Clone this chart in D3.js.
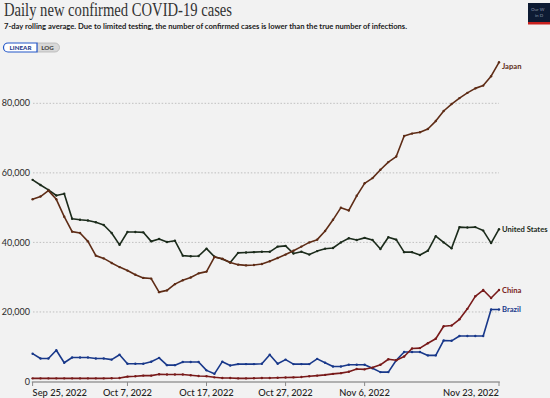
<!DOCTYPE html>
<html>
<head>
<meta charset="utf-8">
<script src="https://cdn.jsdelivr.net/npm/d3@7/dist/d3.min.js"></script>
<style>
  html, body { margin: 0; padding: 0; background: #f2f2f2; }
  svg { display: block; font-family: Lato, "Noto Sans", sans-serif; }
</style>
</head>
<body>
<div id="chart"></div>
<script>
// chart values, one point per day from Sep 25 to Nov 23, 2022
var start_date = "2022-09-25";
var tick_dates = ["2022-09-25", "2022-10-07", "2022-10-17", "2022-10-27", "2022-11-06", "2022-11-23"];
var y_ticks = [0, 20000, 40000, 60000, 80000];

var japan = [52400, 53200, 54900, 52400, 47400, 43100, 42700, 40300, 36200, 35400,
             34100, 32900, 31900, 30700, 29800, 29600, 25700, 26200, 28000, 29100,
             29900, 31100, 31600, 35800, 35300, 34200, 33600, 33400, 33500, 33800,
             34600, 35500, 36500, 37600, 38800, 40000, 40800, 43300, 46500, 50000,
             49200, 53400, 57000, 58500, 60900, 63100, 64700, 70600, 71300, 71700,
             72600, 74900, 77800, 79800, 81500, 83000, 84300, 85100, 87800, 91800];
var united_states = [58000, 56500, 55100, 53500, 54000, 46800, 46500, 46300, 45800, 45000,
             42700, 39300, 43000, 43000, 42900, 40300, 41000, 40100, 40500, 36200,
             36000, 36100, 38200, 35900, 35200, 34200, 37000, 37100, 37200, 37300,
             37300, 38800, 39000, 36800, 37300, 36500, 37500, 38200, 38400, 40000,
             41200, 40700, 41300, 40700, 38100, 41500, 40800, 37200, 37200, 36400,
             37600, 41800, 40000, 38300, 44400, 44300, 44400, 43400, 39800, 43800];
var china = [900, 900, 900, 900, 900, 900, 900, 900, 900, 900,
             950, 1000, 1400, 1500, 1700, 1700, 2100, 2000, 2000, 2000,
             1800, 1600, 1500, 1200, 1000, 1000, 900, 900, 950, 1000,
             1000, 1100, 1150, 1200, 1300, 1500, 1700, 1900, 2200, 2400,
             2800, 3600, 3500, 4000, 4800, 6400, 6100, 7200, 9500, 9600,
             11000, 12300, 15900, 16100, 17900, 20900, 24500, 26300, 24000, 26300];
var brazil = [8000, 6600, 6600, 9000, 5400, 6900, 6900, 6900, 6600, 6600,
             6300, 7700, 5100, 5100, 5100, 5700, 6800, 4700, 4700, 5600,
             5600, 5600, 3200, 2200, 5700, 4600, 5000, 5000, 5000, 5100,
             7700, 5100, 6300, 5000, 5000, 5000, 6500, 5400, 4300, 4300,
             4800, 4800, 4800, 3800, 2700, 2700, 6100, 8500, 8500, 8500,
             7500, 7500, 11800, 11700, 13100, 13100, 13100, 13100, 20700, 20700];

var series = [
    {name: "Japan", values: japan, color: "#5e2c16"},
    {name: "United States", values: united_states, color: "#1b2b1b"},
    {name: "China", values: china, color: "#781a1a"},
    {name: "Brazil", values: brazil, color: "#18388a"}
];

var width = 550;
var height = 398;

var parse = d3.timeParse("%Y-%m-%d");
var dates = d3.range(japan.length).map(function(i) {
    return d3.timeDay.offset(parse(start_date), i);
});

var x = d3.scaleTime()
    .domain([dates[0], dates[dates.length - 1]])
    .range([32.6, 499]);
var y = d3.scaleLinear()
    .domain([0, 91800])
    .range([381.5, 62.3]);

var svg = d3.select("#chart").append("svg")
    .attr("width", width)
    .attr("height", height);

svg.append("rect")
    .attr("width", width).attr("height", height)
    .attr("fill", "#f2f2f2");

// header
var title = svg.append("text")
    .text("Daily new confirmed COVID-19 cases")
    .attr("x", 4).attr("y", 16)
    .attr("font-family", "'Liberation Serif', 'DejaVu Serif', serif")
    .attr("font-size", 18.5)
    .attr("fill", "#333");
if (title.node().getComputedTextLength() > 228) {
    title.attr("textLength", 228).attr("lengthAdjust", "spacingAndGlyphs");
}

var sub = svg.append("text")
    .text("7-day rolling average. Due to limited testing, the number of confirmed cases is lower than the true number of infections.")
    .attr("x", 4).attr("y", 28.5)
    .attr("font-size", 8)
    .attr("font-weight", 700)
    .attr("fill", "#1a1a1a");
if (sub.node().getComputedTextLength() > 403) {
    sub.attr("textLength", 403).attr("lengthAdjust", "spacingAndGlyphs");
}

// linear / log buttons
var btn = svg.append("g");
btn.append("path")
    .attr("d", "M37,43 H55 a4.5,4.5 0 0 1 4.5,4.5 a4.5,4.5 0 0 1 -4.5,4.5 H37 Z")
    .attr("fill", "#d8d8d8").attr("stroke", "#b5b5b5").attr("stroke-width", 0.8);
btn.append("path")
    .attr("d", "M37,43 H8 a4.5,4.5 0 0 0 -4.5,4.5 a4.5,4.5 0 0 0 4.5,4.5 H37 Z")
    .attr("fill", "#ffffff").attr("stroke", "#2356c8").attr("stroke-width", 1.2);
btn.append("text").text("LINEAR")
    .attr("x", 20.5).attr("y", 50).attr("text-anchor", "middle")
    .attr("font-size", 6.2).attr("font-weight", 900).attr("fill", "#1e3c8c");
btn.append("text").text("LOG")
    .attr("x", 47.5).attr("y", 50).attr("text-anchor", "middle")
    .attr("font-size", 6.2).attr("font-weight", 900).attr("fill", "#444");

// logo corner
svg.append("rect").attr("x", 528).attr("y", 3).attr("width", 22).attr("height", 19).attr("fill", "#0d1b33");
svg.append("rect").attr("x", 528).attr("y", 22).attr("width", 22).attr("height", 2.5).attr("fill", "#c8201e");
svg.append("text").text("Our W").attr("x", 531).attr("y", 11)
    .attr("font-size", 4.5).attr("fill", "#8a93a8");
svg.append("text").text("in D").attr("x", 535).attr("y", 17)
    .attr("font-size", 4.5).attr("fill", "#8a93a8");

// grid
svg.append("g")
    .selectAll("line")
    .data(y_ticks.filter(function(d) { return d > 0; }))
  .enter()
    .append("line")
    .attr("x1", 33).attr("x2", 499)
    .attr("y1", function(d) { return y(d); })
    .attr("y2", function(d) { return y(d); })
    .attr("stroke", "#b3b3b3")
    .attr("stroke-width", 0.8)
    .attr("stroke-dasharray", "1.5,1.8");

// y labels
svg.append("g")
    .selectAll("text")
    .data(y_ticks)
  .enter()
    .append("text")
    .text(function(d) { return d3.format(",")(d); })
    .attr("x", 30)
    .attr("y", function(d) { return y(d); })
    .attr("dy", "0.35em")
    .attr("text-anchor", "end")
    .attr("font-size", 9)
    .attr("fill", "#2b2b2b");

// x axis
var xaxis = svg.append("g").attr("transform", "translate(0," + 382 + ")");
xaxis.append("line")
    .attr("x1", x.range()[0] - 0.8).attr("x2", x.range()[1] + 0.8)
    .attr("stroke", "#9a9a9a").attr("stroke-width", 1.6);
var fmt = d3.timeFormat("%b %-d, %Y");
var ticks = tick_dates.map(parse);
xaxis.selectAll("line.tick")
    .data(ticks)
  .enter()
    .append("line")
    .attr("class", "tick")
    .attr("x1", function(d) { return x(d); })
    .attr("x2", function(d) { return x(d); })
    .attr("y1", 0).attr("y2", 4)
    .attr("stroke", "#8a8a8a").attr("stroke-width", 1);
xaxis.selectAll("text")
    .data(ticks)
  .enter()
    .append("text")
    .text(function(d) { return fmt(d); })
    .attr("x", function(d) { return x(d); })
    .attr("y", 13.5)
    .attr("text-anchor", function(d, i) {
        if (i == 0) return "start";
        if (i == ticks.length - 1) return "end";
        return "middle";
    })
    .attr("font-size", 9.3)
    .attr("font-weight", 500)
    .attr("fill", "#222");

// lines
var line = d3.line()
    .x(function(d, i) { return x(dates[i]); })
    .y(function(d) { return y(d); });

series.slice().reverse().forEach(function(s) {
    var g = svg.append("g");
    g.append("path")
        .attr("d", line(s.values))
        .attr("fill", "none")
        .attr("stroke", s.color)
        .attr("stroke-width", 1.6)
        .attr("stroke-linejoin", "round");
    g.selectAll("circle")
        .data(s.values)
      .enter()
        .append("circle")
        .attr("cx", function(d, i) { return x(dates[i]); })
        .attr("cy", function(d) { return y(d); })
        .attr("r", 1.2)
        .attr("fill", s.color);

    var last = s.values[s.values.length - 1];
    g.append("text")
        .text(s.name)
        .attr("x", x(dates[dates.length - 1]) + 3)
        .attr("y", Math.max(y(last), 66.5))
        .attr("dy", "0.35em")
        .attr("font-size", 7.6)
        .attr("font-weight", 700)
        .attr("fill", s.color);
});
</script>
</body>
</html>
